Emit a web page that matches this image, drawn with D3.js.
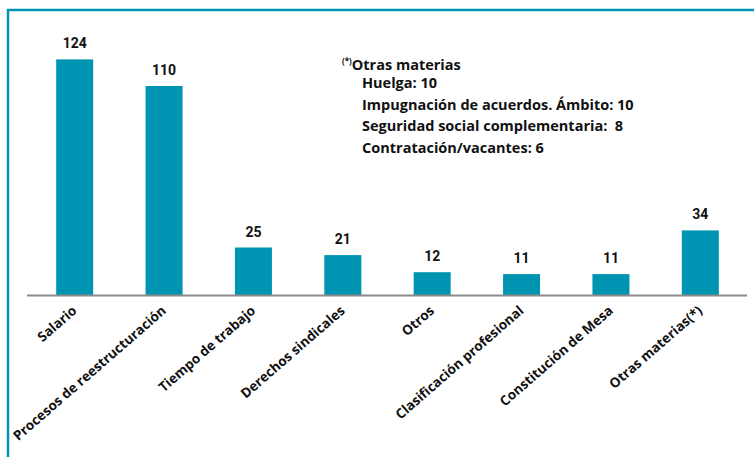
<!DOCTYPE html>
<html>
<head>
<meta charset="utf-8">
<script src="https://cdn.jsdelivr.net/npm/d3@7"></script>
<style>
	body { margin: 0; background: #fff; }
	svg { display: block; }
	text { font-family: Roboto, "Open Sans", sans-serif; font-weight: 700; fill: #111; }
</style>
</head>
<body>
<div id="chart"></div>
<script>
//===== DATA =====//
var categories = ['Salario', 'Procesos de reestructuración', 'Tiempo de trabajo', 'Derechos sindicales',
	'Otros', 'Clasificación profesional', 'Constitución de Mesa', 'Otras materias(*)'];
var values = [124, 110, 25, 21, 12, 11, 11, 34];
var noteTitle = 'Otras materias';
var noteLines = ['Huelga: 10', 'Impugnación de acuerdos. Ámbito: 10', 'Seguridad social complementaria:  8', 'Contratación/vacantes: 6'];

//===== CHART =====//
var width = 754, height = 457, teal = '#0094b3';
var svg = d3.select('#chart').append('svg')
	.attr('width', width)
	.attr('height', height);

// frame (top and left only)
svg.append('path')
	.attr('d', 'M8,' + height + 'V10H' + width)
	.attr('fill', 'none')
	.attr('stroke', teal)
	.attr('stroke-width', 2.5);

var x = d3.scaleBand()
	.domain(categories)
	.range([30, 745])
	.paddingInner(0.586)
	.paddingOuter(0.293);

var y = d3.scaleLinear()
	.domain([0, 130])
	.range([295, 48]);

svg.selectAll('rect.bar').data(values).enter()
	.append('rect')
	.classed('bar', true)
	.attr('x', function (d, i) { return x(categories[i]); })
	.attr('width', x.bandwidth())
	.attr('y', function (d) { return y(d); })
	.attr('height', function (d) { return y(0) - y(d); })
	.attr('fill', teal);

svg.selectAll('text.val').data(values).enter()
	.append('text')
	.classed('val', true)
	.attr('x', function (d, i) { return x(categories[i]) + x.bandwidth() / 2; })
	.attr('y', function (d) { return y(d) - 11; })
	.attr('text-anchor', 'middle')
	.style('font-size', '14px')
	.text(function (d) { return d; });

// x axis
var xAxis = svg.append('g')
	.attr('transform', 'translate(0,' + y(0) + ')')
	.call(d3.axisBottom(x).tickSize(0).tickSizeOuter(0));
xAxis.select('.domain')
	.attr('d', 'M27,0.5H747')
	.attr('stroke', '#8c8c8c')
	.attr('stroke-width', 2);
xAxis.selectAll('.tick text')
	.attr('y', 0)
	.attr('dy', 0)
	.attr('text-anchor', 'end')
	.attr('transform', 'translate(3,17) rotate(-41)')
	.style('font-size', '13.5px')
	.style('font-family', '"Open Sans", sans-serif')
	.style('font-weight', 700)
	.attr('fill', '#111');

// note on "otras materias"
var note = svg.append('text')
	.attr('x', 342)
	.attr('y', 70)
	.style('font-family', '"Open Sans", sans-serif')
	.style('font-size', '14.5px');
note.append('tspan')
	.attr('dy', -6)
	.style('font-size', '8px')
	.text('(*)');
note.append('tspan')
	.attr('dy', 6)
	.text(noteTitle);

svg.selectAll('text.note').data(noteLines).enter()
	.append('text')
	.classed('note', true)
	.attr('x', 362)
	.attr('y', function (d, i) { return 88 + i * 21.7; })
	.style('font-family', '"Open Sans", sans-serif')
	.style('font-size', '14.5px')
	.style('white-space', 'pre')
	.text(function (d) { return d; });
</script>
</body>
</html>
